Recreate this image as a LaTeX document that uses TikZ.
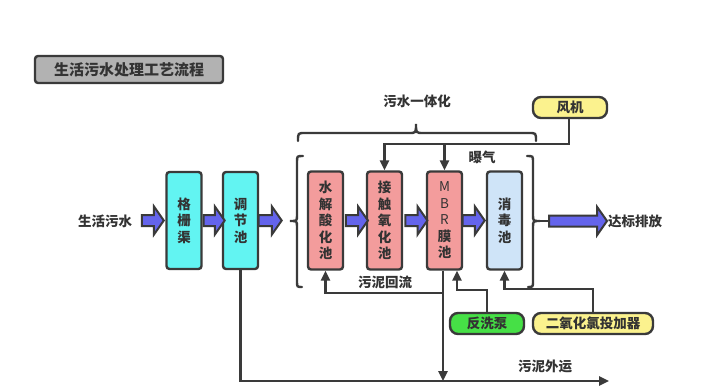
\documentclass[tikz,border=0pt]{standalone}
\usepackage{fontspec}
\setmainfont{Noto Sans CJK SC}
\usetikzlibrary{arrows.meta,shapes.arrows,calc}
\definecolor{ink}{HTML}{3A3A3A}
\definecolor{txt}{HTML}{333333}
\definecolor{cyanbox}{HTML}{62F4F2}
\definecolor{pinkbox}{HTML}{F39C9C}
\definecolor{bluebox}{HTML}{CFE4F8}
\definecolor{yelbox}{HTML}{FBF28E}
\definecolor{grnbox}{HTML}{46E046}
\definecolor{graybox}{HTML}{B2B2B2}
\definecolor{arrowblue}{HTML}{6464EC}
\begin{document}
\begin{tikzpicture}[x=1pt,y=-1pt,
  box/.style={draw=ink, line width=2.4pt, rounded corners=3pt, minimum width=35pt, minimum height=98pt,
    inner sep=0pt, align=center, font=\fontsize{13.5}{16.5}\selectfont\bfseries, text=txt},
  pill/.style={draw=ink, line width=2.4pt, rounded corners=8pt, minimum height=21pt, inner sep=0pt,
    font=\fontsize{13.5}{16}\selectfont\bfseries, text=txt},
  lbl/.style={font=\fontsize{13.5}{16}\selectfont\bfseries, text=txt, inner sep=1pt},
  conn/.style={draw=ink, line width=2.4pt},
  arr/.style={conn, -{Triangle[length=10pt,width=9pt]}},
  brace/.style={draw=ink, line width=2.4pt, line cap=round},
  fatarrow/.style={single arrow, draw=ink, fill=arrowblue, line width=2pt, minimum height=#1,
    minimum width=27pt, single arrow head extend=8.5pt, single arrow tip angle=110,
    inner sep=0pt, outer sep=0pt, text height=9pt, text depth=0pt}
]
\useasboundingbox (0,0) rectangle (720,388);

% title
\node[draw=ink, line width=2.4pt, rounded corners=3pt, fill=graybox, minimum width=188pt, minimum height=27pt,
  inner sep=0pt, font=\fontsize{15}{18}\selectfont\bfseries, text=txt] (title) at (129,69.5) {生活污水处理工艺流程};

% boxes
\node[box, fill=cyanbox, minimum height=97pt] (gs) at (184,220.5) {格\\栅\\渠};
\node[box, fill=cyanbox, minimum height=97pt] (tj) at (240.5,220.5) {调\\节\\池};
\node[box, fill=pinkbox] (sj) at (325.5,220.5) {水\\解\\酸\\化\\池};
\node[box, fill=pinkbox] (jc) at (384.5,220.5) {接\\触\\氧\\化\\池};
\node[box, fill=pinkbox] (mbr) at (444.5,220.5) {{\mdseries M}\\{\mdseries B}\\{\mdseries R}\\膜\\池};
\node[box, fill=bluebox] (xd) at (504.5,220.5) {消\\毒\\池};

\node[pill, fill=yelbox, minimum width=74pt] (fan) at (570,107.5) {风机};
\node[pill, fill=grnbox, minimum width=74pt] (bw) at (487,323.5) {反洗泵};
\node[pill, fill=yelbox, minimum width=120pt] (clo) at (593,323.5) {二氧化氯投加器};

% labels
\node[lbl] (in) at (105,221) {生活污水};
\node[lbl, anchor=west] (out) at (607,221) {达标排放};
\node[lbl] (yth) at (417,101) {污水一体化};
\node[lbl] (bq) at (482,157) {曝气};
\node[lbl] (hl) at (385,282) {污泥回流};
\node[lbl] (wy) at (545,366) {污泥外运};

% fat arrows
\node[fatarrow=22pt, anchor=tip] (a0) at ([xshift=-1.5pt]gs.west) {};
\node[fatarrow=21pt] (a1) at ($(gs.east)!0.5!(tj.west)$) {};
\node[fatarrow=23pt, anchor=tail] (a2) at ([xshift=-0.5pt]tj.east) {};
\node[fatarrow=22pt] (a3) at ($(sj.east)!0.5!(jc.west)$) {};
\node[fatarrow=22pt] (a4) at ($(jc.east)!0.5!(mbr.west)$) {};
\node[fatarrow=22pt, anchor=tail] (a5) at ([xshift=-0.5pt]mbr.east) {};
\coordinate (rtip) at (540,221);
\coordinate (otail) at (549,221);
\node[fatarrow=58pt, anchor=tail] (a6) at (otail) {};
\draw[conn] (rtip) -- (a6.tail);

% braces
\draw[brace] (303,156) .. controls (297,156) .. (297,162) -- (297,215)
  .. controls (297,221) .. (290,221) .. controls (297,221) .. (297,227) -- (297,281)
  .. controls (297,287) .. (302,287);
\draw[brace] (527,156) .. controls (533,156) .. (533,162) -- (533,215)
  .. controls (533,221) .. (540,221) .. controls (533,221) .. (533,227) -- (533,281)
  .. controls (533,287) .. (528,287);
\draw[brace] (298,141) .. controls (298,133) .. (305,133) -- (409,133)
  .. controls (416,133) .. (416,124) .. controls (416,133) .. (423,133) -- (529,133)
  .. controls (536,133) .. (536,141);

% aeration
\coordinate (air) at (569,144);
\draw[arr] (fan.south -| air) -- (air) -| (jc.north);
\draw[arr] (mbr.north |- air) -- (mbr.north);

% sludge
\coordinate (bot) at (609,381);
\coordinate (mout) at ($(mbr.south)+(-1.5,0)$);
\coordinate (min) at ($(mbr.south)+(12.5,0)$);
\draw[arr] (tj.south) |- (bot);
\draw[arr] (mout) -- (mout |- bot);
\draw[arr] ($(mout)+(0,22)$) -| (sj.south);
\draw[arr] (bw.north) -- ++(0,-22) -| (min);
\draw[arr] (clo.north) -- ++(0,-23) -| (xd.south);
\end{tikzpicture}
\end{document}
